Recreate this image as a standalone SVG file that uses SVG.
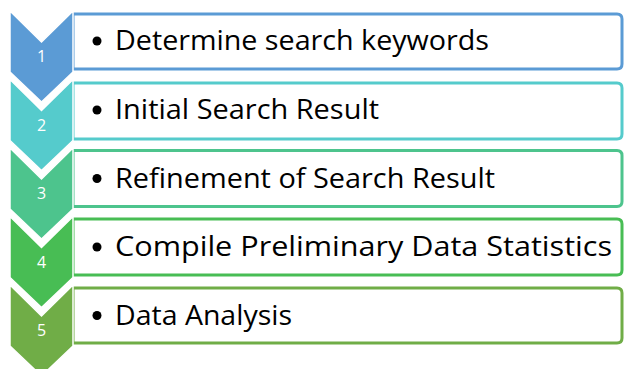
<svg xmlns="http://www.w3.org/2000/svg" width="625" height="369" viewBox="0 0 625 369">
<style>
.chev{stroke:#fff;stroke-width:1.5}
.box{fill:#fff;stroke-width:3}
.num{font-family:"Open Sans","Liberation Sans",sans-serif;font-size:16px;fill:#fff;text-anchor:middle}
.lbl{font-family:"Open Sans","Liberation Sans",sans-serif;font-size:27px;fill:#000}
</style>
<rect width="625" height="369" fill="#fff"/>
<g id="step1">
<path class="box" d="M73,14 H617 Q622,14 622,19 V64 Q622,69 617,69 H73 Z" stroke="#5B9BD5"/>
<path class="chev" d="M10,11 L41.5,42 L73,11 V72 L41.5,102 L10,72 Z" fill="#5B9BD5"/>
<text class="num" x="41.5" y="62">1</text>
<circle cx="97" cy="41" r="4.5"/>
<text class="lbl" x="115" y="50" textLength="374" lengthAdjust="spacingAndGlyphs">Determine search keywords</text>
</g>
<g id="step2">
<path class="box" d="M73,83 H617 Q622,83 622,88 V134 Q622,139 617,139 H73 Z" stroke="#55CBCC"/>
<path class="chev" d="M10,79.5 L41.5,110.5 L73,79.5 V140.5 L41.5,170.5 L10,140.5 Z" fill="#55CBCC"/>
<text class="num" x="41.5" y="130.5">2</text>
<circle cx="97" cy="110" r="4.5"/>
<text class="lbl" x="115" y="119" textLength="264" lengthAdjust="spacingAndGlyphs">Initial Search Result</text>
</g>
<g id="step3">
<path class="box" d="M73,150.5 H617 Q622,150.5 622,155.5 V201.5 Q622,206.5 617,206.5 H73 Z" stroke="#4DC48D"/>
<path class="chev" d="M10,148 L41.5,179 L73,148 V209 L41.5,239 L10,209 Z" fill="#4DC48D"/>
<text class="num" x="41.5" y="199">3</text>
<circle cx="97" cy="178.5" r="4.5"/>
<text class="lbl" x="115" y="187.5" textLength="380" lengthAdjust="spacingAndGlyphs">Refinement of Search Result</text>
</g>
<g id="step4">
<path class="box" d="M73,219 H617 Q622,219 622,224 V270 Q622,275 617,275 H73 Z" stroke="#48BD54"/>
<path class="chev" d="M10,216.5 L41.5,247.5 L73,216.5 V277.5 L41.5,307.5 L10,277.5 Z" fill="#48BD54"/>
<text class="num" x="41.5" y="267.5">4</text>
<circle cx="97" cy="247" r="4.5"/>
<text class="lbl" x="115" y="256" textLength="497" lengthAdjust="spacingAndGlyphs">Compile Preliminary Data Statistics</text>
</g>
<g id="step5">
<path class="box" d="M73,288 H617 Q622,288 622,293 V338 Q622,343 617,343 H73 Z" stroke="#70AD47"/>
<path class="chev" d="M10,285 L41.5,316 L73,285 V346 L41.5,376 L10,346 Z" fill="#70AD47"/>
<text class="num" x="41.5" y="336">5</text>
<circle cx="97" cy="315.5" r="4.5"/>
<text class="lbl" x="115" y="324.5" textLength="177" lengthAdjust="spacingAndGlyphs">Data Analysis</text>
</g>
<g id="connectors"/>
</svg>
